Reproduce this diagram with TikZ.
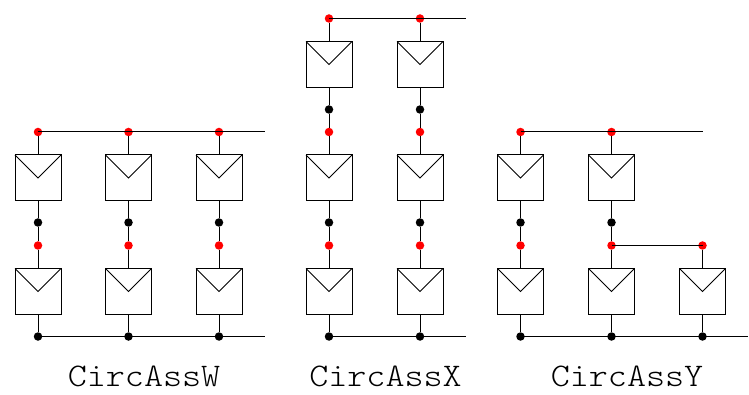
\documentclass[tikz,border=0pt]{standalone}
\usepackage{fontspec}
\newfontfamily\capfont[FakeStretch=1.1]{Latin Modern Mono Light}
\tikzset{
  panel/.style={draw,line width=1pt,fill=white,minimum width=46pt,minimum height=46pt,inner sep=0pt,outer sep=0pt},
  reddot/.style={circle,fill=red,minimum size=8.5pt,inner sep=0pt,outer sep=0pt},
  blackdot/.style={circle,fill=black,minimum size=8.5pt,inner sep=0pt,outer sep=0pt},
  wire/.style={line width=1pt},
  caption/.style={font=\fontsize{33}{33}\selectfont\capfont,anchor=base,inner sep=0pt}
}
% \pnl{name}{x}{y}
\newcommand{\pnl}[3]{\node[panel] (#1) at (#2,#3) {};
  \draw[wire] (#1.north west) -- (#1.center) -- (#1.north east);}
\newcommand{\rd}[3]{\node[reddot] (#1) at (#2,#3) {};}
\newcommand{\bd}[3]{\node[blackdot] (#1) at (#2,#3) {};}
\begin{document}
\begin{tikzpicture}[x=1pt,y=-1pt]
\useasboundingbox (0,-0.5) rectangle (749,394.5);
% two-row columns: W and X lower parts, Y first column
\foreach \n/\x in {wa/38,wb/128.5,wc/219,xa/329,xb/420,ya/520.5}{
  \rd{\n t}{\x}{131.5}
  \pnl{\n u}{\x}{177.5}
  \bd{\n m}{\x}{222}
  \rd{\n r}{\x}{245}
  \pnl{\n l}{\x}{291}
  \bd{\n b}{\x}{336}
  \draw[wire] (\n t) -- (\n u) (\n u) -- (\n m) (\n m) -- (\n r) (\n r) -- (\n l) (\n l) -- (\n b);
}
% X top tier
\foreach \n/\x in {xa/329,xb/420}{
  \rd{\n tt}{\x}{18}
  \pnl{\n uu}{\x}{64}
  \bd{\n mm}{\x}{109}
  \draw[wire] (\n tt) -- (\n uu) (\n uu) -- (\n mm) (\n mm) -- (\n t);
}
% Y second column
\rd{ybt}{611.5}{131.5}
\pnl{ybu}{611.5}{177.5}
\bd{ybm}{611.5}{222}
\rd{ybr}{611.5}{245}
\pnl{ybl}{611.5}{291}
\bd{ybb}{611.5}{336}
\draw[wire] (ybt) -- (ybu) (ybu) -- (ybm) (ybm) -- (ybr) (ybr) -- (ybl) (ybl) -- (ybb);
% Y third column
\rd{ycr}{702.5}{245}
\pnl{ycl}{702.5}{291}
\bd{ycb}{702.5}{336}
\draw[wire] (ycr) -- (ycl) (ycl) -- (ycb);
% free ends of the rails
\coordinate (wtop) at (265,131.5);
\coordinate (wbot) at (265,336);
\coordinate (xtop) at (466,18);
\coordinate (xbot) at (466,336);
\coordinate (ybotend) at (748,336);
\coordinate (ytopend) at (702.5,131.5);
% rails
\draw[wire] (wat.center) -- (wtop);
\draw[wire] (wab.center) -- (wbot);
\draw[wire] (xatt.center) -- (xtop);
\draw[wire] (xab.center) -- (xbot);
\draw[wire] (yat.center) -- (ytopend);
\draw[wire] (yab.center) -- (ybotend);
\draw[wire] (ybr.center) -- (ycr.center);
% captions
\node[caption] (capw) at (144,386) {CircAssW};
\node[caption] (capx) at (385.5,386) {CircAssX};
\node[caption] (capy) at (627,386) {CircAssY};
\end{tikzpicture}
\end{document}
